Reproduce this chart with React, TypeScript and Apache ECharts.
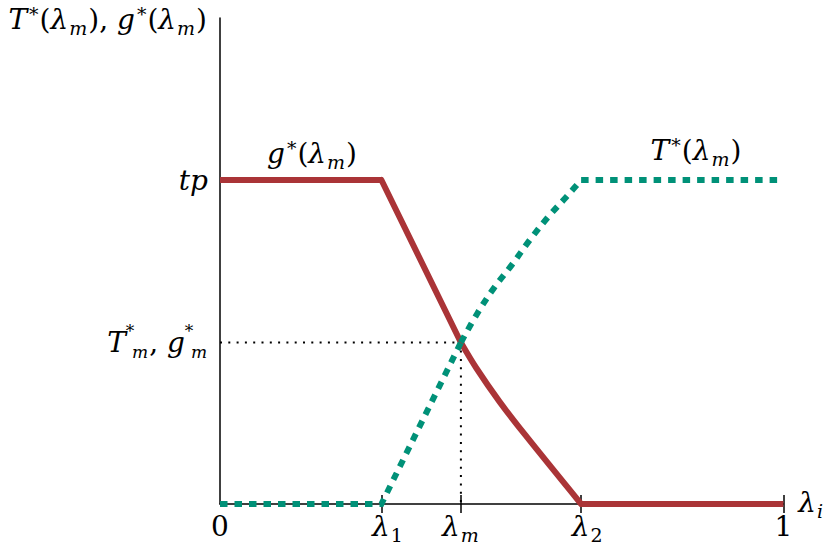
import React, { useEffect, useRef } from "react";
import * as echarts from "echarts";

// Key abscissae (fraction of the [0,1] axis)
const L1 = 0.2865;
const Lm = 0.4276;
const L2 = 0.641;
// Level of the intersection (tp = 1)
const Tm = 0.4985;
const TP = 1;

// g*(λm) curve: flat, straight drop, convex tail, flat
const gFlatX = [0, L1];
const gFlatY = [TP, TP];
const gDropX = [L1, Lm];
const gDropY = [TP, Tm];
const gTailX = [Lm, 0.4552, 0.4961, 0.5418, L2];
const gTailY = [Tm, 0.419, 0.316, 0.213, 0];
const gEndX = [L2, 1];
const gEndY = [0, 0];

// T*(λm) curve: flat, straight rise, concave part, flat
const tStartX = [0, L1, Lm];
const tStartY = [0, 0, Tm];
const tRiseX = [Lm, 0.457, 0.486, 0.518, 0.55, 0.583, 0.618, L2];
const tRiseY = [Tm, 0.589, 0.666, 0.738, 0.815, 0.887, 0.954, TP];
const tEndX = [L2, 1];
const tEndY = [TP, TP];

// dotted guide lines
const guideX = [0, Lm, Lm];
const guideY = [Tm, Tm, 0];

// ticks / labels
const xTickValues = [0, L1, Lm, L2, 1];
const xTickMarks = [L1, Lm, L2, 1];
const xTickLabels = [
  "{rm|0}",
  "{pad|}{it|λ}{subr|1}",
  "{it|λ}{sub|m}",
  "{pad|}{it|λ}{subr|2}",
  "{rm|1}",
];
const yTickValues = [Tm, TP];
const yTickLabels = [
  "{itY|T}{supY|*}{subY|m}{rmY|, }{itY|g}{supY|*}{subY|m}",
  "{it|tp}",
];

const F = "DejaVu Serif";
const FS = 28;
const SFS = 19;
const LH = 36;
const LHY = 40;
const rich: any = {
  it: { fontFamily: F, fontStyle: "italic", fontSize: FS, lineHeight: LH, color: "#000" },
  rm: { fontFamily: F, fontSize: FS, lineHeight: LH, color: "#000" },
  sup: { fontFamily: F, fontSize: SFS, lineHeight: 16, verticalAlign: "top", color: "#000", padding: [3, 1, 0, 2] },
  sub: { fontFamily: F, fontStyle: "italic", fontSize: SFS, lineHeight: 16, verticalAlign: "bottom", color: "#000", padding: [0, 1, 0, 1] },
  subr: { fontFamily: F, fontSize: SFS, lineHeight: 16, verticalAlign: "bottom", color: "#000", padding: [0, 0, 0, 1] },
  pad: { width: 12, lineHeight: LH },
  itY: { fontFamily: F, fontStyle: "italic", fontSize: FS, lineHeight: LHY, color: "#000" },
  rmY: { fontFamily: F, fontSize: FS, lineHeight: LHY, color: "#000" },
  supY: { fontFamily: F, fontSize: 17, lineHeight: 16, verticalAlign: "top", width: 0, align: "left", color: "#000", padding: [0, 0, 0, 4] },
  subY: { fontFamily: F, fontStyle: "italic", fontSize: 17, lineHeight: 16, verticalAlign: "bottom", color: "#000", padding: [0, 1, 2, 2] },
};

const RED = "#aa3437";
const GREEN = "#009178";

function pairs(xs: number[], ys: number[]) {
  return xs.map((x, i) => [x, ys[i]]);
}

function labelFor(values: number[], labels: string[], v: number) {
  for (let i = 0; i < values.length; i++) {
    if (Math.abs(values[i] - v) < 1e-6) return labels[i];
  }
  return "";
}

function lineSeries(xs: number[], ys: number[], color: string, extra: any, z: number, smooth = false) {
  return {
    type: "line",
    data: pairs(xs, ys),
    symbol: "none",
    silent: true,
    smooth: smooth ? 0.35 : false,
    lineStyle: { color, width: 6, cap: "butt", join: "miter", ...extra },
    z,
  };
}

export default function App() {
  const ref = useRef<HTMLDivElement>(null);
  useEffect(() => {
    if (!ref.current) return;
    const chart = echarts.init(ref.current, undefined, { renderer: "svg" });
    const dash = { type: [7.5, 7] };
    chart.setOption({
      animation: false,
      backgroundColor: "#fff",
      grid: { left: 220, right: 38, top: 18, bottom: 41 },
      xAxis: [
        {
          type: "value",
          min: 0,
          max: 1,
          splitLine: { show: false },
          axisLine: { show: true, onZero: false, lineStyle: { color: "#000", width: 1.5 } },
          axisTick: { show: true, customValues: xTickMarks, length: 9, lineStyle: { color: "#000", width: 1.5 } },
          axisLabel: {
            customValues: xTickValues,
            margin: 4,
            formatter: (v: number) => labelFor(xTickValues, xTickLabels, v),
            rich,
          },
          name: "{it|λ}{sub|i}",
          nameLocation: "end",
          nameGap: 7,
          nameTextStyle: { rich, padding: [0, 0, 4, 0] },
        },
        {
          type: "value",
          min: 0,
          max: 1,
          position: "bottom",
          splitLine: { show: false },
          axisLine: { show: false },
          axisTick: { show: true, inside: true, customValues: xTickMarks, length: 9, lineStyle: { color: "#000", width: 1.5 } },
          axisLabel: { show: false },
        },
      ],
      yAxis: {
        type: "value",
        min: 0,
        max: 1.5,
        splitLine: { show: false },
        axisLine: { show: true, onZero: false, lineStyle: { color: "#000", width: 1.5 } },
        axisTick: { show: false },
        axisLabel: {
          customValues: yTickValues,
          margin: 12,
          formatter: (v: number) => labelFor(yTickValues, yTickLabels, v),
          rich,
        },
      },
      graphic: [
        {
          type: "text",
          x: 207,
          y: 19,
          style: {
            text: "{it|T}{sup|*}{rm|(}{it|λ}{sub|m}{rm|), }{it|g}{sup|*}{rm|(}{it|λ}{sub|m}{rm|)}",
            rich,
            align: "right",
            verticalAlign: "middle",
          },
        },
        {
          type: "text",
          x: 312,
          y: 153,
          style: {
            text: "{it|g}{sup|*}{rm|(}{it|λ}{sub|m}{rm|)}",
            rich,
            align: "center",
            verticalAlign: "middle",
          },
        },
        {
          type: "text",
          x: 696,
          y: 150,
          style: {
            text: "{it|T}{sup|*}{rm|(}{it|λ}{sub|m}{rm|)}",
            rich,
            align: "center",
            verticalAlign: "middle",
          },
        },
      ],
      series: [
        {
          type: "line",
          data: pairs(guideX, guideY),
          symbol: "none",
          silent: true,
          lineStyle: { color: "#000", width: 2, type: [2, 6.3], cap: "butt" },
          z: 1,
        },
        lineSeries(gFlatX, gFlatY, RED, {}, 2),
        lineSeries(gDropX, gDropY, RED, { cap: "round" }, 2),
        lineSeries(gTailX, gTailY, RED, { cap: "round" }, 2, true),
        lineSeries(gEndX, gEndY, RED, {}, 2),
        lineSeries(tStartX, tStartY, GREEN, dash, 3),
        lineSeries(tRiseX, tRiseY, GREEN, dash, 3, true),
        lineSeries(tEndX, tEndY, GREEN, dash, 3),
      ],
    });
    return () => chart.dispose();
  }, []);
  return (
    <div
      ref={ref}
      style={{ position: "fixed", left: 0, top: 0, width: 827, height: 545, background: "#fff" }}
    />
  );
}
